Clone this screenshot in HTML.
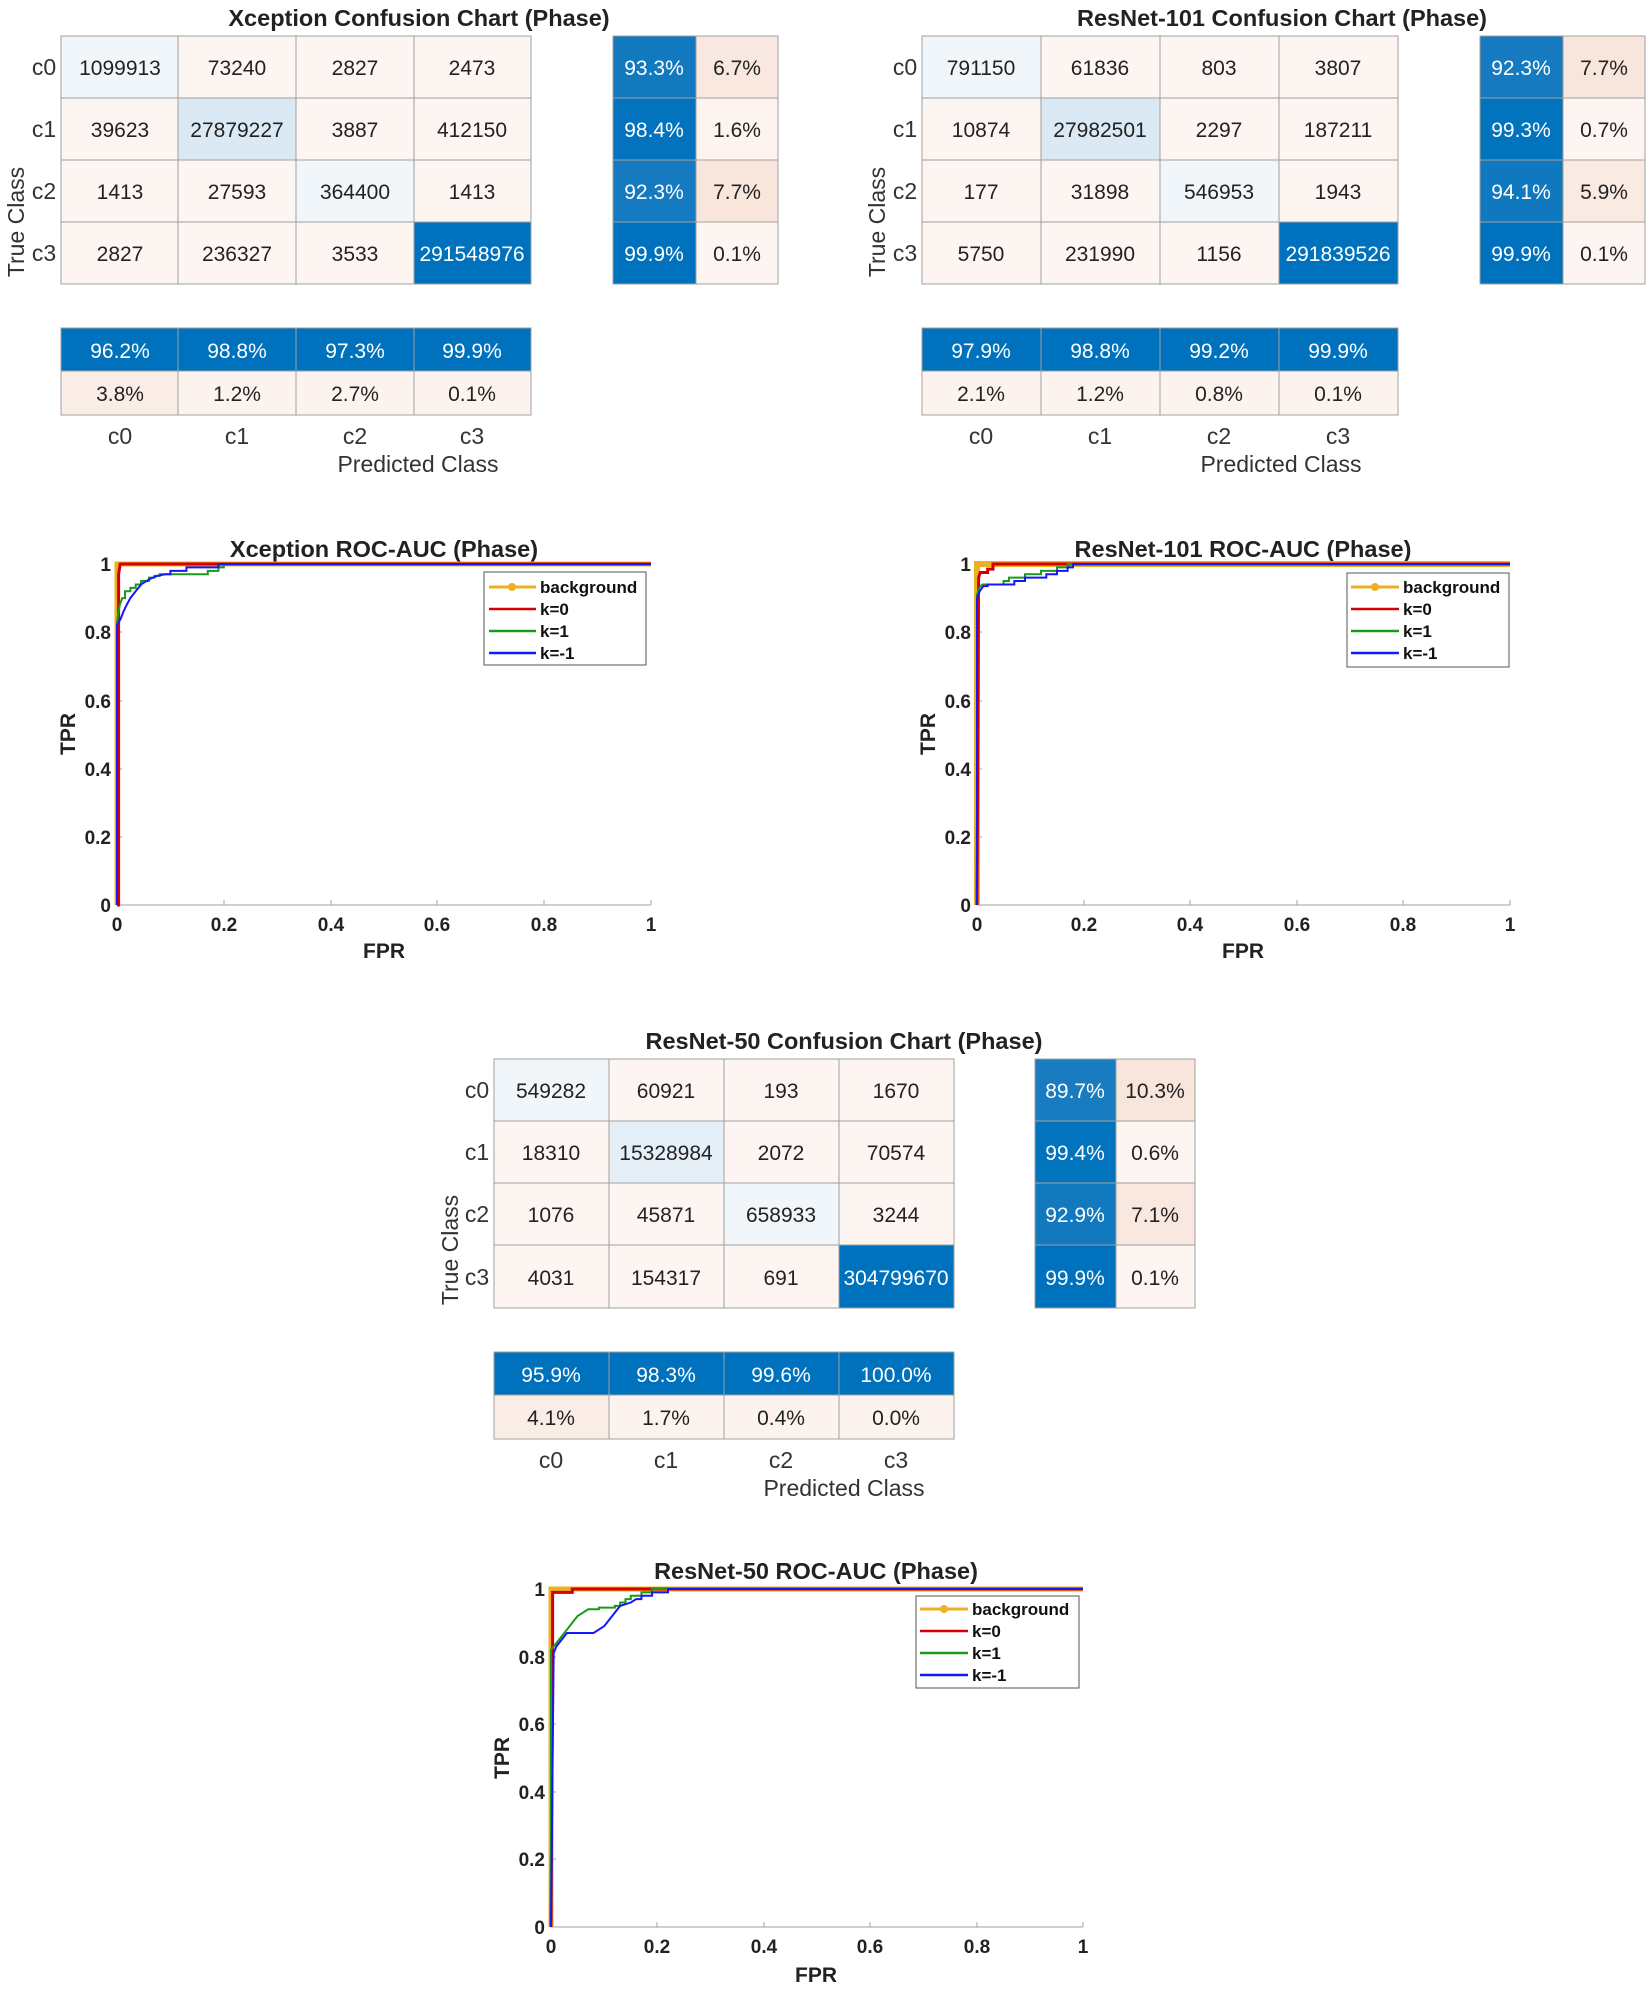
<!DOCTYPE html>
<html><head><meta charset="utf-8"><style>
html,body{margin:0;padding:0;background:#fff;}
svg{display:block;}
text{font-family:"Liberation Sans",Arial,sans-serif;}
.t{font-size:21px;fill:#222;text-anchor:middle;}
.w{font-size:21px;fill:#fff;text-anchor:middle;}
.ttl{font-size:23.5px;font-weight:bold;fill:#222;text-anchor:middle;}
.lab{font-size:23px;fill:#333;text-anchor:middle;}
.tk{font-size:19px;font-weight:bold;fill:#222;}
.ax{font-size:21px;font-weight:bold;fill:#222;text-anchor:middle;}
.lg{font-size:17px;font-weight:bold;fill:#111;}
.g{stroke:#a0a0a0;stroke-width:1;fill:none;}
.c{fill:none;vector-effect:non-scaling-stroke;stroke-linejoin:miter;}
</style></head><body>
<svg width="1650" height="1992" viewBox="0 0 1650 1992" xmlns="http://www.w3.org/2000/svg">

<!-- ===== Xception CM ===== -->
<text class="ttl" x="419" y="26">Xception Confusion Chart (Phase)</text>
<g>
<rect x="61" y="36" width="117" height="62" fill="#F1F6FB"/><rect x="178" y="36" width="118" height="62" fill="#FDF5F1"/><rect x="296" y="36" width="118" height="62" fill="#FDF5F1"/><rect x="414" y="36" width="117" height="62" fill="#FDF5F1"/>
<rect x="61" y="98" width="117" height="62" fill="#FDF5F1"/><rect x="178" y="98" width="118" height="62" fill="#DAE9F4"/><rect x="296" y="98" width="118" height="62" fill="#FDF5F1"/><rect x="414" y="98" width="117" height="62" fill="#FDF5F1"/>
<rect x="61" y="160" width="117" height="62" fill="#FDF5F1"/><rect x="178" y="160" width="118" height="62" fill="#FDF5F1"/><rect x="296" y="160" width="118" height="62" fill="#F1F6FB"/><rect x="414" y="160" width="117" height="62" fill="#FDF5F1"/>
<rect x="61" y="222" width="117" height="62" fill="#FDF5F1"/><rect x="178" y="222" width="118" height="62" fill="#FDF5F1"/><rect x="296" y="222" width="118" height="62" fill="#FDF5F1"/><rect x="414" y="222" width="117" height="62" fill="#0072BD"/>
<path class="g" d="M61 36H531V284H61Z M178 36V284 M296 36V284 M414 36V284 M61 98H531 M61 160H531 M61 222H531"/>
<text class="t" x="120" y="75">1099913</text><text class="t" x="237" y="75">73240</text><text class="t" x="355" y="75">2827</text><text class="t" x="472" y="75">2473</text>
<text class="t" x="120" y="137">39623</text><text class="t" x="237" y="137">27879227</text><text class="t" x="355" y="137">3887</text><text class="t" x="472" y="137">412150</text>
<text class="t" x="120" y="199">1413</text><text class="t" x="237" y="199">27593</text><text class="t" x="355" y="199">364400</text><text class="t" x="472" y="199">1413</text>
<text class="t" x="120" y="261">2827</text><text class="t" x="237" y="261">236327</text><text class="t" x="355" y="261">3533</text><text class="w" x="472" y="261">291548976</text>
<text class="lab" x="44" y="75">c0</text><text class="lab" x="44" y="137">c1</text><text class="lab" x="44" y="199">c2</text><text class="lab" x="44" y="261">c3</text>
<text class="lab" transform="translate(24,222) rotate(-90)">True Class</text>
<rect x="613" y="36" width="83" height="62" fill="#1279BF"/><rect x="696" y="36" width="82" height="62" fill="#F9E8DF"/>
<rect x="613" y="98" width="83" height="62" fill="#0473BD"/><rect x="696" y="98" width="82" height="62" fill="#FDF4EF"/>
<rect x="613" y="160" width="83" height="62" fill="#157ABF"/><rect x="696" y="160" width="82" height="62" fill="#F8E5DB"/>
<rect x="613" y="222" width="83" height="62" fill="#0072BD"/><rect x="696" y="222" width="82" height="62" fill="#FDF5F1"/>
<path class="g" d="M613 36H778V284H613Z M696 36V284 M613 98H778 M613 160H778 M613 222H778"/>
<text class="w" x="654" y="75">93.3%</text><text class="t" x="737" y="75">6.7%</text>
<text class="w" x="654" y="137">98.4%</text><text class="t" x="737" y="137">1.6%</text>
<text class="w" x="654" y="199">92.3%</text><text class="t" x="737" y="199">7.7%</text>
<text class="w" x="654" y="261">99.9%</text><text class="t" x="737" y="261">0.1%</text>
<rect x="61" y="328" width="470" height="43" fill="#0072BD"/>
<rect x="61" y="371" width="117" height="44" fill="#FAEDE6"/><rect x="178" y="371" width="353" height="44" fill="#FDF3EE"/>
<path class="g" d="M61 328H531V415H61Z M178 328V415 M296 328V415 M414 328V415 M61 371H531"/>
<text class="w" x="120" y="358">96.2%</text><text class="w" x="237" y="358">98.8%</text><text class="w" x="355" y="358">97.3%</text><text class="w" x="472" y="358">99.9%</text>
<text class="t" x="120" y="401">3.8%</text><text class="t" x="237" y="401">1.2%</text><text class="t" x="355" y="401">2.7%</text><text class="t" x="472" y="401">0.1%</text>
<text class="lab" x="120" y="444">c0</text><text class="lab" x="237" y="444">c1</text><text class="lab" x="355" y="444">c2</text><text class="lab" x="472" y="444">c3</text>
<text class="lab" x="418" y="472">Predicted Class</text>
</g>

<!-- ===== ResNet-101 CM ===== -->
<text class="ttl" x="1282" y="26">ResNet-101 Confusion Chart (Phase)</text>
<g>
<rect x="922" y="36" width="119" height="62" fill="#F1F6FB"/><rect x="1041" y="36" width="119" height="62" fill="#FDF5F1"/><rect x="1160" y="36" width="119" height="62" fill="#FDF5F1"/><rect x="1279" y="36" width="119" height="62" fill="#FDF5F1"/>
<rect x="922" y="98" width="119" height="62" fill="#FDF5F1"/><rect x="1041" y="98" width="119" height="62" fill="#DAE9F4"/><rect x="1160" y="98" width="119" height="62" fill="#FDF5F1"/><rect x="1279" y="98" width="119" height="62" fill="#FDF5F1"/>
<rect x="922" y="160" width="119" height="62" fill="#FDF5F1"/><rect x="1041" y="160" width="119" height="62" fill="#FDF5F1"/><rect x="1160" y="160" width="119" height="62" fill="#F1F6FB"/><rect x="1279" y="160" width="119" height="62" fill="#FDF5F1"/>
<rect x="922" y="222" width="119" height="62" fill="#FDF5F1"/><rect x="1041" y="222" width="119" height="62" fill="#FDF5F1"/><rect x="1160" y="222" width="119" height="62" fill="#FDF5F1"/><rect x="1279" y="222" width="119" height="62" fill="#0072BD"/>
<path class="g" d="M922 36H1398V284H922Z M1041 36V284 M1160 36V284 M1279 36V284 M922 98H1398 M922 160H1398 M922 222H1398"/>
<text class="t" x="981" y="75">791150</text><text class="t" x="1100" y="75">61836</text><text class="t" x="1219" y="75">803</text><text class="t" x="1338" y="75">3807</text>
<text class="t" x="981" y="137">10874</text><text class="t" x="1100" y="137">27982501</text><text class="t" x="1219" y="137">2297</text><text class="t" x="1338" y="137">187211</text>
<text class="t" x="981" y="199">177</text><text class="t" x="1100" y="199">31898</text><text class="t" x="1219" y="199">546953</text><text class="t" x="1338" y="199">1943</text>
<text class="t" x="981" y="261">5750</text><text class="t" x="1100" y="261">231990</text><text class="t" x="1219" y="261">1156</text><text class="w" x="1338" y="261">291839526</text>
<text class="lab" x="905" y="75">c0</text><text class="lab" x="905" y="137">c1</text><text class="lab" x="905" y="199">c2</text><text class="lab" x="905" y="261">c3</text>
<text class="lab" transform="translate(885,222) rotate(-90)">True Class</text>
<rect x="1480" y="36" width="83" height="62" fill="#157ABF"/><rect x="1563" y="36" width="82" height="62" fill="#F8E5DB"/>
<rect x="1480" y="98" width="83" height="62" fill="#0273BD"/><rect x="1563" y="98" width="82" height="62" fill="#FDF5F1"/>
<rect x="1480" y="160" width="83" height="62" fill="#0F78BF"/><rect x="1563" y="160" width="82" height="62" fill="#F9EAE2"/>
<rect x="1480" y="222" width="83" height="62" fill="#0072BD"/><rect x="1563" y="222" width="82" height="62" fill="#FDF5F1"/>
<path class="g" d="M1480 36H1645V284H1480Z M1563 36V284 M1480 98H1645 M1480 160H1645 M1480 222H1645"/>
<text class="w" x="1521" y="75">92.3%</text><text class="t" x="1604" y="75">7.7%</text>
<text class="w" x="1521" y="137">99.3%</text><text class="t" x="1604" y="137">0.7%</text>
<text class="w" x="1521" y="199">94.1%</text><text class="t" x="1604" y="199">5.9%</text>
<text class="w" x="1521" y="261">99.9%</text><text class="t" x="1604" y="261">0.1%</text>
<rect x="922" y="328" width="476" height="43" fill="#0072BD"/>
<rect x="922" y="371" width="476" height="44" fill="#FDF3EE"/>
<path class="g" d="M922 328H1398V415H922Z M1041 328V415 M1160 328V415 M1279 328V415 M922 371H1398"/>
<text class="w" x="981" y="358">97.9%</text><text class="w" x="1100" y="358">98.8%</text><text class="w" x="1219" y="358">99.2%</text><text class="w" x="1338" y="358">99.9%</text>
<text class="t" x="981" y="401">2.1%</text><text class="t" x="1100" y="401">1.2%</text><text class="t" x="1219" y="401">0.8%</text><text class="t" x="1338" y="401">0.1%</text>
<text class="lab" x="981" y="444">c0</text><text class="lab" x="1100" y="444">c1</text><text class="lab" x="1219" y="444">c2</text><text class="lab" x="1338" y="444">c3</text>
<text class="lab" x="1281" y="472">Predicted Class</text>
</g>

<!-- ===== ResNet-50 CM ===== -->
<text class="ttl" x="844" y="1049">ResNet-50 Confusion Chart (Phase)</text>
<g>
<rect x="494" y="1059" width="115" height="62" fill="#F1F6FB"/><rect x="609" y="1059" width="115" height="62" fill="#FDF5F1"/><rect x="724" y="1059" width="115" height="62" fill="#FDF5F1"/><rect x="839" y="1059" width="115" height="62" fill="#FDF5F1"/>
<rect x="494" y="1121" width="115" height="62" fill="#FDF5F1"/><rect x="609" y="1121" width="115" height="62" fill="#E4EFF8"/><rect x="724" y="1121" width="115" height="62" fill="#FDF5F1"/><rect x="839" y="1121" width="115" height="62" fill="#FDF5F1"/>
<rect x="494" y="1183" width="115" height="62" fill="#FDF5F1"/><rect x="609" y="1183" width="115" height="62" fill="#FDF5F1"/><rect x="724" y="1183" width="115" height="62" fill="#F1F6FB"/><rect x="839" y="1183" width="115" height="62" fill="#FDF5F1"/>
<rect x="494" y="1245" width="115" height="63" fill="#FDF5F1"/><rect x="609" y="1245" width="115" height="63" fill="#FDF5F1"/><rect x="724" y="1245" width="115" height="63" fill="#FDF5F1"/><rect x="839" y="1245" width="115" height="63" fill="#0072BD"/>
<path class="g" d="M494 1059H954V1308H494Z M609 1059V1308 M724 1059V1308 M839 1059V1308 M494 1121H954 M494 1183H954 M494 1245H954"/>
<text class="t" x="551" y="1098">549282</text><text class="t" x="666" y="1098">60921</text><text class="t" x="781" y="1098">193</text><text class="t" x="896" y="1098">1670</text>
<text class="t" x="551" y="1160">18310</text><text class="t" x="666" y="1160">15328984</text><text class="t" x="781" y="1160">2072</text><text class="t" x="896" y="1160">70574</text>
<text class="t" x="551" y="1222">1076</text><text class="t" x="666" y="1222">45871</text><text class="t" x="781" y="1222">658933</text><text class="t" x="896" y="1222">3244</text>
<text class="t" x="551" y="1285">4031</text><text class="t" x="666" y="1285">154317</text><text class="t" x="781" y="1285">691</text><text class="w" x="896" y="1285">304799670</text>
<text class="lab" x="477" y="1098">c0</text><text class="lab" x="477" y="1160">c1</text><text class="lab" x="477" y="1222">c2</text><text class="lab" x="477" y="1285">c3</text>
<text class="lab" transform="translate(458,1250) rotate(-90)">True Class</text>
<rect x="1035" y="1059" width="81" height="62" fill="#1A7CC0"/><rect x="1116" y="1059" width="79" height="62" fill="#F8E6DC"/>
<rect x="1035" y="1121" width="81" height="62" fill="#0273BD"/><rect x="1116" y="1121" width="79" height="62" fill="#FDF5F1"/>
<rect x="1035" y="1183" width="81" height="62" fill="#1279BF"/><rect x="1116" y="1183" width="79" height="62" fill="#F9E8DF"/>
<rect x="1035" y="1245" width="81" height="63" fill="#0072BD"/><rect x="1116" y="1245" width="79" height="63" fill="#FDF5F1"/>
<path class="g" d="M1035 1059H1195V1308H1035Z M1116 1059V1308 M1035 1121H1195 M1035 1183H1195 M1035 1245H1195"/>
<text class="w" x="1075" y="1098">89.7%</text><text class="t" x="1155" y="1098">10.3%</text>
<text class="w" x="1075" y="1160">99.4%</text><text class="t" x="1155" y="1160">0.6%</text>
<text class="w" x="1075" y="1222">92.9%</text><text class="t" x="1155" y="1222">7.1%</text>
<text class="w" x="1075" y="1285">99.9%</text><text class="t" x="1155" y="1285">0.1%</text>
<rect x="494" y="1352" width="460" height="43" fill="#0072BD"/>
<rect x="494" y="1395" width="115" height="44" fill="#FAEDE6"/><rect x="609" y="1395" width="345" height="44" fill="#FDF3EE"/>
<path class="g" d="M494 1352H954V1439H494Z M609 1352V1439 M724 1352V1439 M839 1352V1439 M494 1395H954"/>
<text class="w" x="551" y="1382">95.9%</text><text class="w" x="666" y="1382">98.3%</text><text class="w" x="781" y="1382">99.6%</text><text class="w" x="896" y="1382">100.0%</text>
<text class="t" x="551" y="1425">4.1%</text><text class="t" x="666" y="1425">1.7%</text><text class="t" x="781" y="1425">0.4%</text><text class="t" x="896" y="1425">0.0%</text>
<text class="lab" x="551" y="1468">c0</text><text class="lab" x="666" y="1468">c1</text><text class="lab" x="781" y="1468">c2</text><text class="lab" x="896" y="1468">c3</text>
<text class="lab" x="844" y="1496">Predicted Class</text>
</g>

<!-- ===== Xception ROC ===== -->
<text class="ttl" x="384" y="557">Xception ROC-AUC (Phase)</text>
<path class="g" d="M117 564V905H651 M117 837H122 M117 769H122 M117 701H122 M117 632H122 M224 905V900 M331 905V900 M437 905V900 M544 905V900 M651 905V900"/>
<g transform="translate(117,905) scale(534,-341)">
<path class="c" stroke="#EDB120" stroke-width="5" d="M0 0V1H1"/>
<path class="c" stroke="#D40000" stroke-width="3" d="M0 0L0.003 0V0.97L0.006 1H1"/>
<path class="c" stroke="#1A9A1A" stroke-width="2" d="M0 0V0.83L0.005 0.88L0.01 0.9H0.015V0.92H0.025V0.93H0.035V0.94H0.045V0.95H0.06V0.96H0.07V0.965H0.08V0.97H0.17V0.98H0.19V0.99H0.2V1H1"/>
<path class="c" stroke="#1515FF" stroke-width="2" d="M0 0V0.82L0.007 0.84L0.012 0.86L0.018 0.88L0.025 0.9L0.035 0.92L0.045 0.94L0.06 0.955L0.075 0.965L0.09 0.97H0.1V0.98H0.13V0.99H0.19V1H1"/>
</g>
<text class="tk" text-anchor="end" x="111" y="912">0</text><text class="tk" text-anchor="end" x="111" y="844">0.2</text><text class="tk" text-anchor="end" x="111" y="776">0.4</text><text class="tk" text-anchor="end" x="111" y="708">0.6</text><text class="tk" text-anchor="end" x="111" y="639">0.8</text><text class="tk" text-anchor="end" x="111" y="571">1</text>
<text class="tk" text-anchor="middle" x="117" y="931">0</text><text class="tk" text-anchor="middle" x="224" y="931">0.2</text><text class="tk" text-anchor="middle" x="331" y="931">0.4</text><text class="tk" text-anchor="middle" x="437" y="931">0.6</text><text class="tk" text-anchor="middle" x="544" y="931">0.8</text><text class="tk" text-anchor="middle" x="651" y="931">1</text>
<text class="ax" x="384" y="958">FPR</text>
<text class="ax" transform="translate(75,734) rotate(-90)">TPR</text>
<g>
<rect x="484" y="572" width="162" height="93" fill="#fff" stroke="#555" stroke-width="1"/>
<line x1="489" y1="587" x2="536" y2="587" stroke="#EDB120" stroke-width="3"/><circle cx="512" cy="587" r="4" fill="#EDB120"/>
<line x1="489" y1="609" x2="536" y2="609" stroke="#D40000" stroke-width="2.5"/>
<line x1="489" y1="631" x2="536" y2="631" stroke="#1A9A1A" stroke-width="2.5"/>
<line x1="489" y1="653" x2="536" y2="653" stroke="#1515FF" stroke-width="2.5"/>
<text class="lg" x="540" y="593">background</text><text class="lg" x="540" y="615">k=0</text><text class="lg" x="540" y="637">k=1</text><text class="lg" x="540" y="659">k=-1</text>
</g>

<!-- ===== ResNet-101 ROC ===== -->
<text class="ttl" x="1243" y="557">ResNet-101 ROC-AUC (Phase)</text>
<path class="g" d="M977 564V905H1510 M977 837H982 M977 769H982 M977 701H982 M977 632H982 M1084 905V900 M1190 905V900 M1297 905V900 M1403 905V900 M1510 905V900"/>
<g transform="translate(977,905) scale(533,-341)">
<path class="c" stroke="#EDB120" stroke-width="6" d="M0 0V1H1"/>
<path class="c" stroke="#D40000" stroke-width="3" d="M0 0L0.003 0.96L0.006 0.975H0.02V0.985H0.03V1H1"/>
<path class="c" stroke="#1A9A1A" stroke-width="2" d="M0 0V0.91L0.004 0.93L0.01 0.94H0.05V0.95H0.06V0.96H0.09V0.97H0.12V0.98H0.15V0.99H0.17V1H1"/>
<path class="c" stroke="#1515FF" stroke-width="2" d="M0 0V0.9L0.005 0.92L0.012 0.935H0.02V0.94H0.07V0.95H0.09V0.96H0.13V0.97H0.15V0.98H0.17V0.99H0.18V1H1"/>
</g>
<text class="tk" text-anchor="end" x="971" y="912">0</text><text class="tk" text-anchor="end" x="971" y="844">0.2</text><text class="tk" text-anchor="end" x="971" y="776">0.4</text><text class="tk" text-anchor="end" x="971" y="708">0.6</text><text class="tk" text-anchor="end" x="971" y="639">0.8</text><text class="tk" text-anchor="end" x="971" y="571">1</text>
<text class="tk" text-anchor="middle" x="977" y="931">0</text><text class="tk" text-anchor="middle" x="1084" y="931">0.2</text><text class="tk" text-anchor="middle" x="1190" y="931">0.4</text><text class="tk" text-anchor="middle" x="1297" y="931">0.6</text><text class="tk" text-anchor="middle" x="1403" y="931">0.8</text><text class="tk" text-anchor="middle" x="1510" y="931">1</text>
<text class="ax" x="1243" y="958">FPR</text>
<text class="ax" transform="translate(935,734) rotate(-90)">TPR</text>
<g>
<rect x="1347" y="573" width="162" height="94" fill="#fff" stroke="#555" stroke-width="1"/>
<line x1="1351" y1="587" x2="1399" y2="587" stroke="#EDB120" stroke-width="3"/><circle cx="1375" cy="587" r="4" fill="#EDB120"/>
<line x1="1351" y1="609" x2="1399" y2="609" stroke="#D40000" stroke-width="2.5"/>
<line x1="1351" y1="631" x2="1399" y2="631" stroke="#1A9A1A" stroke-width="2.5"/>
<line x1="1351" y1="653" x2="1399" y2="653" stroke="#1515FF" stroke-width="2.5"/>
<text class="lg" x="1403" y="593">background</text><text class="lg" x="1403" y="615">k=0</text><text class="lg" x="1403" y="637">k=1</text><text class="lg" x="1403" y="659">k=-1</text>
</g>

<!-- ===== ResNet-50 ROC ===== -->
<text class="ttl" x="816" y="1579">ResNet-50 ROC-AUC (Phase)</text>
<path class="g" d="M551 1589V1927H1083 M551 1859H556 M551 1792H556 M551 1724H556 M551 1657H556 M657 1927V1922 M764 1927V1922 M870 1927V1922 M977 1927V1922 M1083 1927V1922"/>
<g transform="translate(551,1927) scale(532,-338)">
<path class="c" stroke="#EDB120" stroke-width="5" d="M0 0V1H1"/>
<path class="c" stroke="#D40000" stroke-width="3" d="M0 0L0.003 0.8V0.99H0.04V1H1"/>
<path class="c" stroke="#1A9A1A" stroke-width="2" d="M0 0V0.82L0.01 0.84L0.02 0.86L0.03 0.88L0.04 0.9L0.05 0.92L0.06 0.93L0.07 0.94H0.09V0.945H0.12V0.95H0.13V0.96H0.14V0.97H0.15V0.98H0.17V0.99H0.19V1H1"/>
<path class="c" stroke="#1515FF" stroke-width="2" d="M0 0L0.005 0.81L0.01 0.83L0.02 0.85L0.03 0.87H0.08L0.1 0.89L0.11 0.91L0.12 0.93L0.13 0.95L0.15 0.96L0.16 0.97H0.17V0.98H0.19V0.99H0.22V1H1"/>
</g>
<text class="tk" text-anchor="end" x="545" y="1934">0</text><text class="tk" text-anchor="end" x="545" y="1866">0.2</text><text class="tk" text-anchor="end" x="545" y="1799">0.4</text><text class="tk" text-anchor="end" x="545" y="1731">0.6</text><text class="tk" text-anchor="end" x="545" y="1664">0.8</text><text class="tk" text-anchor="end" x="545" y="1596">1</text>
<text class="tk" text-anchor="middle" x="551" y="1953">0</text><text class="tk" text-anchor="middle" x="657" y="1953">0.2</text><text class="tk" text-anchor="middle" x="764" y="1953">0.4</text><text class="tk" text-anchor="middle" x="870" y="1953">0.6</text><text class="tk" text-anchor="middle" x="977" y="1953">0.8</text><text class="tk" text-anchor="middle" x="1083" y="1953">1</text>
<text class="ax" x="816" y="1982">FPR</text>
<text class="ax" transform="translate(509,1758) rotate(-90)">TPR</text>
<g>
<rect x="916" y="1596" width="163" height="92" fill="#fff" stroke="#555" stroke-width="1"/>
<line x1="920" y1="1609" x2="968" y2="1609" stroke="#EDB120" stroke-width="3"/><circle cx="944" cy="1609" r="4" fill="#EDB120"/>
<line x1="920" y1="1631" x2="968" y2="1631" stroke="#D40000" stroke-width="2.5"/>
<line x1="920" y1="1653" x2="968" y2="1653" stroke="#1A9A1A" stroke-width="2.5"/>
<line x1="920" y1="1675" x2="968" y2="1675" stroke="#1515FF" stroke-width="2.5"/>
<text class="lg" x="972" y="1615">background</text><text class="lg" x="972" y="1637">k=0</text><text class="lg" x="972" y="1659">k=1</text><text class="lg" x="972" y="1681">k=-1</text>
</g>
</svg>
</body></html>
